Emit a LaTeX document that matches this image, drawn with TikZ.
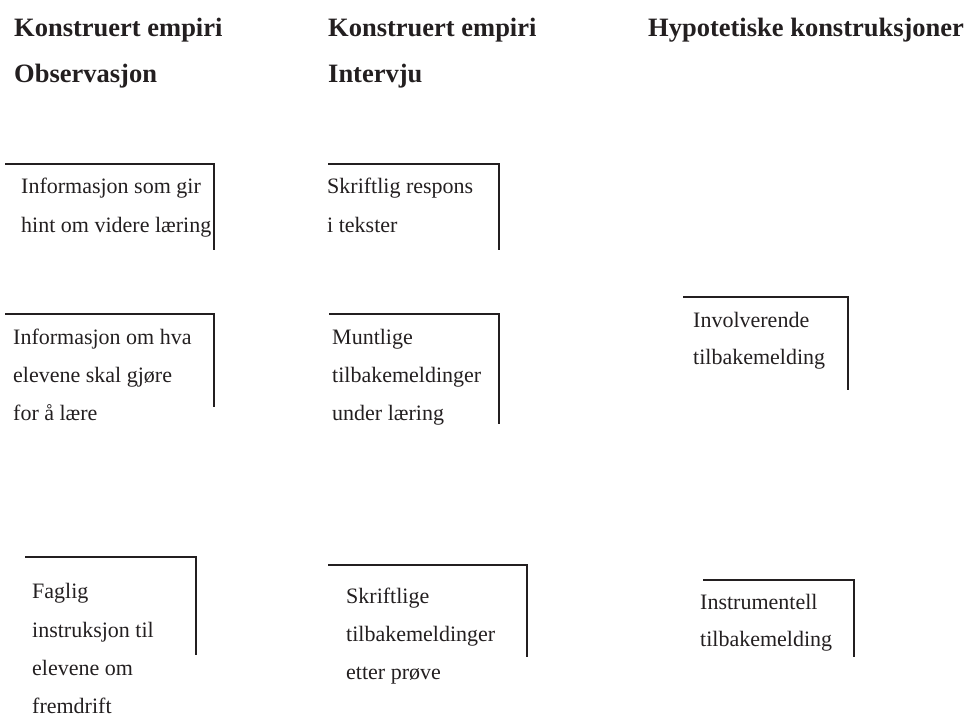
\documentclass[tikz,border=0pt]{standalone}
\usepackage{fontspec}
\setmainfont{Liberation Serif}
\definecolor{ink}{HTML}{231F20}
\begin{document}
\begin{tikzpicture}[x=1pt,y=-1pt,
  hdr/.style={anchor=base west,inner sep=0pt,text=ink,font=\fontsize{26.5}{30}\selectfont\bfseries},
  txt/.style={anchor=base west,inner sep=0pt,text=ink,font=\fontsize{22}{26}\selectfont},
  frame/.style={draw=ink,line width=1.3pt}]
\useasboundingbox (0,0) rectangle (967,716);
% headers
\node[hdr] (h1a) at (14,36) {Konstruert empiri};
\node[hdr] (h1b) at (14,82) {Observasjon};
\node[hdr] (h2a) at (328,36) {Konstruert empiri};
\node[hdr] (h2b) at (328,82) {Intervju};
\node[hdr] (h3a) at (648,36) {Hypotetiske konstruksjoner};
% box 1
\coordinate (b1tl) at (5,164); \coordinate (b1br) at (214,250);
\draw[frame] (b1tl) -| (b1br);
\node[txt] (t1a) at (21,193) {Informasjon som gir};
\node[txt] (t1b) at (21,232) {hint om videre læring};
% box 2
\coordinate (b2tl) at (328,164); \coordinate (b2br) at (499,250);
\draw[frame] (b2tl) -| (b2br);
\node[txt] (t2a) at (327,193) {Skriftlig respons};
\node[txt] (t2b) at (327,232) {i tekster};
% box 3
\coordinate (b3tl) at (5,314); \coordinate (b3br) at (214,407);
\draw[frame] (b3tl) -| (b3br);
\node[txt] (t3a) at (13,344) {Informasjon om hva};
\node[txt] (t3b) at (13,382) {elevene skal gjøre};
\node[txt] (t3c) at (13,420) {for å lære};
% box 4
\coordinate (b4tl) at (329,314); \coordinate (b4br) at (499,424);
\draw[frame] (b4tl) -| (b4br);
\node[txt] (t4a) at (332,344) {Muntlige};
\node[txt] (t4b) at (332,382) {tilbakemeldinger};
\node[txt] (t4c) at (332,420) {under læring};
% box 5
\coordinate (b5tl) at (683,297); \coordinate (b5br) at (848,390);
\draw[frame] (b5tl) -| (b5br);
\node[txt] (t5a) at (693,327) {Involverende};
\node[txt] (t5b) at (693,364) {tilbakemelding};
% box 6
\coordinate (b6tl) at (25,557); \coordinate (b6br) at (196,655);
\draw[frame] (b6tl) -| (b6br);
\node[txt] (t6a) at (32,598) {Faglig};
\node[txt] (t6b) at (32,637) {instruksjon til};
\node[txt] (t6c) at (32,675) {elevene om};
\node[txt] (t6d) at (32,713) {fremdrift};
% box 7
\coordinate (b7tl) at (328,565); \coordinate (b7br) at (527,657);
\draw[frame] (b7tl) -| (b7br);
\node[txt] (t7a) at (346,603) {Skriftlige};
\node[txt] (t7b) at (346,641) {tilbakemeldinger};
\node[txt] (t7c) at (346,679) {etter prøve};
% box 8
\coordinate (b8tl) at (703,580); \coordinate (b8br) at (854,657);
\draw[frame] (b8tl) -| (b8br);
\node[txt] (t8a) at (700,609) {Instrumentell};
\node[txt] (t8b) at (700,646) {tilbakemelding};
\end{tikzpicture}
\end{document}
